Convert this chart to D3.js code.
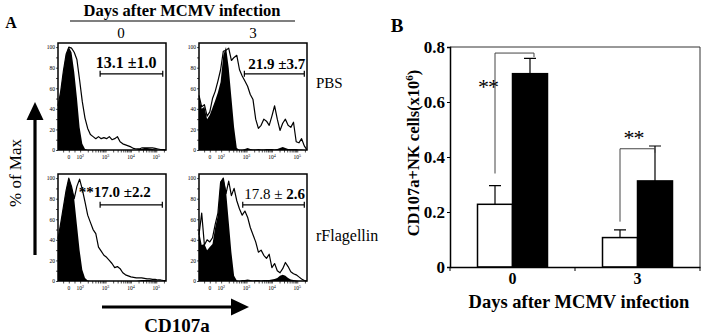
<!DOCTYPE html>
<html>
<head>
<meta charset="utf-8">
<script src="https://cdn.jsdelivr.net/npm/d3@7"></script>
<style>
body { margin: 0; background: #fff; }
svg { display: block; font-family: "Liberation Serif", "Times New Roman", serif; }
</style>
</head>
<body>
<svg id="chart" width="701" height="336" viewBox="0 0 701 336"></svg>
<script>
// ---- panel A: histograms, % of max per display channel (0..100 across the plot)
const bins = d3.range(0, 100.01, 2.5);
const isoPbsD0  = [43,57,77,93,100,95,76,51,22,6,1,0,0,0,0,0,0,0,0,0,0,0,0,0,0,0,0,0,0,0,1,1,2,2,1.5,1,0.5,0,0,0,0];
const openPbsD0 = [43,57,77,93,100,99,95,88,68,47,31,21,15,13,11,13,11,12,11,13,10,11,13,8,6,5,4,3,1.5,1,1,2,2,2,2,2,1.5,1,0.5,0.3,0];
const isoPbsD3  = [53,40,42,30,34,41,48,56,66,92,100,80,51,22,2,0,0,1,2,1,0.5,0.5,1,0.5,0.5,1,1,1,0.5,1,2,3,2,1,1,1,1,0.5,0.5,0,0];
const openPbsD3 = [53,42,44,33,37,50,57,67,78,96,97,99,87,90,92,78,72,67,62,54,49,30,21,24,30,28,24,33,43,30,19,26,30,24,22,27,8,7,11,4,0];
const isoRfD0   = [41,56,72,88,100,92,80,55,30,11,3,0.5,0,0,0,0,0,0,0,0,0,0,0,0,0,0,0,0,0,0,0.5,1,1,1,1,0.5,0.5,0,0,0,0];
const openRfD0  = [41,56,72,88,100,92,80,92,99,89,77,64,57,50,46,33,29,25,23,20,17,13,14,12,8,6,5,4,3.5,3,3,3,2.5,2,2,1.5,1.5,1,1,0.5,0.5];
const isoRfD3   = [48,35,36,30,33,36,52,64,97,100,88,58,28,5,0.5,0,1,1,1.5,1,0.5,1,1,0.5,1,1,1,1.5,2,3,5,6,5,3,1.5,1,0.5,0,0,0,0];
const openRfD3  = [45,66,35,40,38,42,55,66,96,100,85,97,83,90,78,70,64,68,62,52,45,38,28,30,25,22,26,13,17,10,8,12,18,14,9,7,6,4,2,0.5,0];

const pctTicks = [0, 20, 40, 60, 80, 100];
const cdTicks = [0, 1e2, 1e3, 1e4, 1e5];
const cdTickExp = ["", "2", "3", "4", "5"];
// gate start/end channel and the percent text (segments: [text, bold])
const gateFrom = [39, 42, 39, 40.5];
const gateTo = [97, 97.5, 96.6, 97.5];
const gateLabels = [
  [["13.1 ±1.0", true]],
  [["21.9 ±3.7", true]],
  [["**17.0 ±2.2", true]],
  [["17.8 ± ", false], ["2.6", true]]
];
const dayLabels = ["0", "3"];
const rowLabels = ["PBS", "rFlagellin"];

// ---- panel B: CD107a+ NK cells (x10^6)
const days = ["0", "3"];
const treatments = ["PBS", "rFlagellin"];
const pbsMean = [0.228, 0.107];
const pbsErr = [0.068, 0.028];
const flaMean = [0.703, 0.313];
const flaErr = [0.056, 0.127];
const sigLow = [0.34, 0.165];
const sigTop = [0.778, 0.43];
const yTicksB = [0, 0.2, 0.4, 0.6, 0.8];

const svg = d3.select("#chart");

// logicle-like display: linear around 0, log above 10^2
function toChannel(v) {
  return v <= 100 ? 10 + v * 0.105 : 20.5 + (Math.log10(v) - 2) * 23.5;
}
let minorVals = [-50, 50];
for (let dec = 2; dec <= 5; dec++)
  for (let k = 2; k <= 9; k++) if (toChannel(k * Math.pow(10, dec)) < 100) minorVals.push(k * Math.pow(10, dec));

const boxW = 108, boxH = 107;
const colX = [58, 199], rowY = [43, 174];
const x = d3.scaleLinear().domain([0, 100]).range([0, boxW]);
const y = d3.scaleLinear().domain([0, 104]).range([boxH, 0]);

const panels = [
  {col: 0, row: 0, iso: isoPbsD0, open: openPbsD0},
  {col: 1, row: 0, iso: isoPbsD3, open: openPbsD3},
  {col: 0, row: 1, iso: isoRfD0, open: openRfD0},
  {col: 1, row: 1, iso: isoRfD3, open: openRfD3}
];

panels.forEach((p, k) => {
  let g = svg.append("g").attr("transform", `translate(${colX[p.col]},${rowY[p.row]})`);

  g.append("path")
    .datum(p.iso)
    .attr("d", d3.area().x((d, i) => x(bins[i])).y0(y(0)).y1(d => y(d)))
    .attr("fill", "#000");

  g.append("path")
    .datum(p.open)
    .attr("d", d3.line().x((d, i) => x(bins[i])).y(d => y(d)))
    .attr("fill", "none")
    .attr("stroke", "#000")
    .attr("stroke-width", 1.2)
    .attr("stroke-linejoin", "round");

  // y axis (% of max)
  let ya = g.append("g")
    .call(d3.axisLeft(y).tickValues(d3.range(0, 101, 10)).tickSize(2).tickPadding(1)
      .tickFormat(d => pctTicks.includes(d) ? d : ""));
  ya.select(".domain").remove();
  ya.selectAll("text").attr("font-size", 5.5).attr("font-family", "Liberation Serif");
  ya.selectAll("line").attr("stroke-width", 0.7);

  // x axis (CD107a)
  let xa = g.append("g")
    .attr("transform", `translate(0,${boxH})`)
    .call(d3.axisBottom(x).tickValues(cdTicks.concat(minorVals).map(toChannel)).tickSize(2.5).tickFormat(""));
  xa.select(".domain").remove();
  xa.selectAll("line").attr("stroke-width", 0.7);

  let lab = g.selectAll(".cdlab")
    .data(cdTicks)
    .join("text")
    .attr("x", d => x(toChannel(d)))
    .attr("y", boxH + 9)
    .attr("text-anchor", "middle")
    .attr("font-size", 5.5);
  lab.append("tspan").text(d => d === 0 ? "0" : "10");
  lab.append("tspan")
    .attr("font-size", 4)
    .attr("dy", -2.5)
    .text((d, i) => cdTickExp[i]);

  g.append("rect")
    .attr("width", boxW)
    .attr("height", boxH)
    .attr("fill", "none")
    .attr("stroke", "#000")
    .attr("stroke-width", 1.5);

  // gate bracket
  let gy = y(74);
  g.append("path")
    .attr("d", `M${x(gateFrom[k])},${gy - 3}V${gy + 3}M${x(gateFrom[k])},${gy}H${x(gateTo[k])}M${x(gateTo[k])},${gy - 3}V${gy + 3}`)
    .attr("stroke", "#000")
    .attr("stroke-width", 1.2)
    .attr("fill", "none");

  let labX = [63, 72, 52.5, 70][k];
  let labY = [80, 79, 82, 80][k];
  let labSize = [16, 15, 15, 15][k];
  let t = g.append("text")
    .attr("x", x(labX))
    .attr("y", y(labY))
    .attr("text-anchor", "middle")
    .attr("font-size", labSize);
  gateLabels[k].forEach(s => t.append("tspan").attr("font-weight", s[1] ? "bold" : "normal").text(s[0]));
});

// column / row headers of panel A
svg.append("text").attr("x", 11).attr("y", 28).attr("font-size", 16).attr("font-weight", "bold")
  .attr("text-anchor", "middle").text("A");
svg.append("text").attr("x", 182).attr("y", 16).attr("font-size", 16.5).attr("font-weight", "bold")
  .attr("text-anchor", "middle").text("Days after MCMV infection");
svg.append("line").attr("x1", 70).attr("x2", 295).attr("y1", 21).attr("y2", 21)
  .attr("stroke", "#000").attr("stroke-width", 1.2);
svg.selectAll(".dayhead")
  .data(dayLabels)
  .join("text")
  .attr("x", (d, i) => [121, 253][i])
  .attr("y", 38)
  .attr("font-size", 15)
  .attr("text-anchor", "middle")
  .text(d => d);
svg.selectAll(".rowhead")
  .data(rowLabels)
  .join("text")
  .attr("x", 316)
  .attr("y", (d, i) => [88, 241][i])
  .attr("font-size", (d, i) => [15, 16][i])
  .text(d => d);

// axis arrows
svg.append("line").attr("x1", 35).attr("x2", 35).attr("y1", 255).attr("y2", 118)
  .attr("stroke", "#000").attr("stroke-width", 3.2);
svg.append("path").attr("d", "M35,102L43.5,120L26.5,120Z").attr("fill", "#000");
svg.append("text")
  .attr("transform", "translate(21,173) rotate(-90)")
  .attr("text-anchor", "middle")
  .attr("font-size", 17)
  .text("% of Max");
svg.append("line").attr("x1", 102).attr("x2", 234).attr("y1", 307).attr("y2", 307)
  .attr("stroke", "#000").attr("stroke-width", 3.2);
svg.append("path").attr("d", "M249,307L231,298.5L231,315.5Z").attr("fill", "#000");
svg.append("text").attr("x", 177).attr("y", 332).attr("font-size", 19).attr("font-weight", "bold")
  .attr("text-anchor", "middle").text("CD107a");

// ---- panel B
const xB = d3.scaleBand().domain(days).range([450, 700]);
const xS = d3.scaleBand().domain(treatments).range([0, xB.bandwidth()]).paddingOuter(0.786);
const yB = d3.scaleLinear().domain([0, 0.8]).range([267, 47]);

svg.append("text").attr("x", 397).attr("y", 32).attr("font-size", 19).attr("font-weight", "bold")
  .attr("text-anchor", "middle").text("B");

// frame top/right
svg.append("path").attr("d", `M450,${yB(0.8)}H700V${yB(0)}`).attr("fill", "none")
  .attr("stroke", "#333").attr("stroke-width", 1);

const bars = [];
days.forEach((d, i) => {
  bars.push({day: d, tr: "PBS", v: pbsMean[i], e: pbsErr[i]});
  bars.push({day: d, tr: "rFlagellin", v: flaMean[i], e: flaErr[i]});
});

const bx = b => xB(b.day) + xS(b.tr);
svg.selectAll(".err")
  .data(bars)
  .join("path")
  .attr("d", b => {
    let cx = bx(b) + xS.bandwidth() / 2;
    return `M${cx},${yB(b.v)}V${yB(b.v + b.e)}M${cx - 6},${yB(b.v + b.e)}H${cx + 6}`;
  })
  .attr("stroke", "#000")
  .attr("stroke-width", 1.2)
  .attr("fill", "none");

svg.selectAll(".bar")
  .data(bars)
  .join("rect")
  .attr("x", bx)
  .attr("y", b => yB(b.v))
  .attr("width", xS.bandwidth())
  .attr("height", b => yB(0) - yB(b.v))
  .attr("fill", b => b.tr === "PBS" ? "#fff" : "#000")
  .attr("stroke", "#000")
  .attr("stroke-width", 1.5);

// significance brackets
days.forEach((d, i) => {
  let x1 = xB(d) + xS("PBS") + xS.bandwidth() / 2;
  let x2 = xB(d) + xS("rFlagellin") + xS.bandwidth() / 2 + (i === 0 ? 4 : 0);
  svg.append("path")
    .attr("d", `M${x1},${yB(sigLow[i])}V${yB(sigTop[i])}H${x2}V${yB(sigTop[i]) + 4}`)
    .attr("fill", "none")
    .attr("stroke", "#444")
    .attr("stroke-width", 1);
  svg.append("text")
    .attr("x", i === 0 ? x1 - 7 : (x1 + x2) / 2 - 4)
    .attr("y", i === 0 ? yB(sigTop[i]) + 41 : yB(sigTop[i]) - 4)
    .attr("text-anchor", "middle")
    .attr("font-size", 22)
    .attr("letter-spacing", -1)
    .text("**");
});

// axes
let yaB = svg.append("g").attr("transform", "translate(450,0)")
  .call(d3.axisLeft(yB).tickValues(yTicksB).tickSize(3).tickPadding(2).tickFormat(d => d === 0 ? "0" : d3.format(".1f")(d)));
yaB.select(".domain").attr("stroke-width", 1.5);
yaB.selectAll("text").attr("font-size", 17).attr("font-weight", "bold").attr("font-family", "Liberation Serif");

let xaB = svg.append("g").attr("transform", `translate(0,${yB(0)})`)
  .call(d3.axisBottom(xB).tickSize(0).tickPadding(6));
xaB.select(".domain").attr("stroke-width", 1.5);
xaB.selectAll("text").attr("font-size", 16).attr("font-weight", "bold").attr("font-family", "Liberation Serif");
xaB.selectAll(".sep")
  .data([450, 575, 700])
  .join("line")
  .attr("x1", d => d).attr("x2", d => d)
  .attr("y1", 0).attr("y2", 4)
  .attr("stroke", "#000");

svg.append("text").attr("x", 579).attr("y", 308).attr("font-size", 18.5).attr("font-weight", "bold")
  .attr("text-anchor", "middle").text("Days after MCMV infection");

let yl = svg.append("text")
  .attr("transform", "translate(419,153) rotate(-90)")
  .attr("text-anchor", "middle")
  .attr("font-size", 16.5)
  .attr("font-weight", "bold");
yl.append("tspan").text("CD107a+NK cells(x10");
yl.append("tspan").attr("font-size", 11).attr("dy", -6).text("6");
yl.append("tspan").attr("dy", 6).text(")");
</script>
</body>
</html>
